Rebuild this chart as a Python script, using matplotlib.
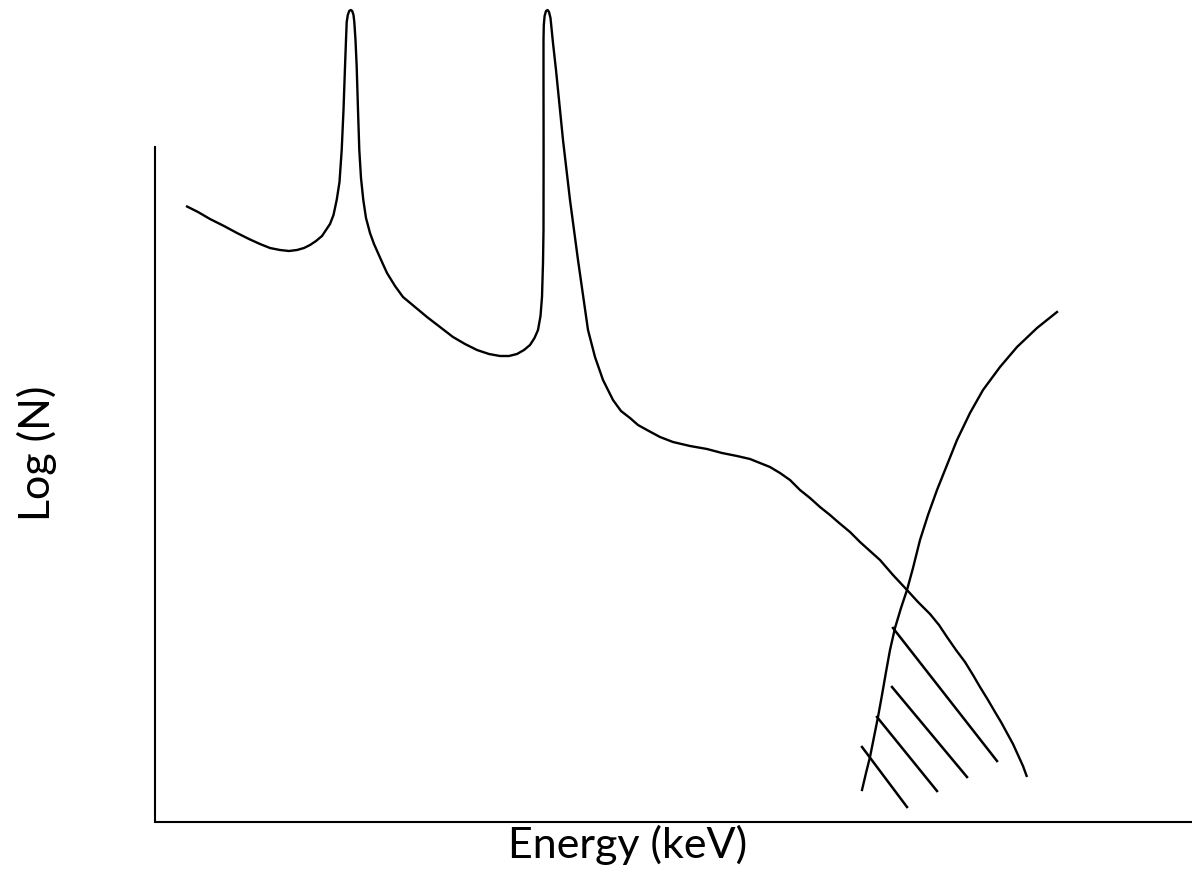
import matplotlib
matplotlib.use("Agg")
import matplotlib.pyplot as plt

# Schematic gamma spectrum (pixel-like units, y downward)
spectrum_x = [186, 198, 210, 224, 237, 249, 260, 270, 280, 289, 297, 304, 310, 316, 322, 326, 330,
              333.5, 336.7, 339.5, 341.7, 343.5, 345, 346, 346.7, 347.8, 349.2, 350.7, 352.2, 353.5,
              354.3, 355.5, 356.7, 358, 359.3, 361, 363.3, 366, 370, 374, 378, 382, 387, 395, 403,
              415, 427, 440, 453, 465, 477, 489, 500, 509, 517, 524, 530, 534.5, 538, 540.5, 542,
              543, 543.5, 543.6, 543.5, 543.5, 543.8, 544.6, 546, 547.6, 549, 550.5, 553, 556, 559.5,
              563, 566.5, 570, 574, 578, 583, 588, 595, 603, 613, 621, 630, 638, 647, 660, 673, 690,
              707, 722, 737, 750, 760, 770, 780, 790, 800, 810, 820, 830, 838, 850, 860, 870, 880,
              893, 907, 918, 930, 939, 947, 956, 965, 973, 980, 988, 995, 1001, 1007, 1013, 1018,
              1023, 1027]
spectrum_y = [206, 212, 219, 226, 233, 239, 244, 248, 250, 251, 250, 248, 245, 241, 236, 230, 224,
              215, 200, 182, 150, 110, 67, 40, 22, 15, 11, 10, 11, 15,
              22, 40, 67, 110, 150, 178, 200, 218, 233, 244, 253, 262, 273, 286, 297,
              307, 317, 327, 337, 344, 350, 354, 356, 356, 354, 350, 345, 338, 330, 316, 297,
              263, 230, 150, 80, 40, 25, 16, 11, 10, 12, 18, 43, 70, 105,
              140, 170, 200, 230, 260, 295, 330, 357, 380, 400, 411, 418, 425, 430, 437, 442, 446,
              449, 453, 456, 459, 463, 467, 473, 480, 490, 498, 507, 515, 522, 532, 542, 551, 560,
              575, 590, 602, 614, 625, 637, 650, 662, 675, 687, 700, 712, 722, 733, 744, 755,
              766, 777]

efficiency_x = [862, 866, 870, 874, 878, 882, 886, 890, 895, 901, 907, 913, 920, 928, 937, 947, 957,
                970, 983, 1000, 1017, 1037, 1057]
efficiency_y = [790, 773, 757, 737, 717, 695, 672, 650, 628, 608, 590, 568, 540, 515, 490, 465, 440,
                413, 390, 367, 347, 328, 312]

hatch_x0 = [862, 877, 892, 893]
hatch_y0 = [747, 717, 687, 628]
hatch_x1 = [907, 937, 967, 997]
hatch_y1 = [807, 791, 777, 761]

axis_x = [155, 155, 1192]
axis_y = [147, 822, 822]

fig = plt.figure(figsize=(11.92, 8.76), dpi=100)
ax = fig.add_axes([0, 0, 1, 1])
ax.set_xlim(0, 1192)
ax.set_ylim(876, 0)
ax.axis("off")

ax.plot(axis_x, axis_y, color="black", lw=1.5, solid_joinstyle="miter")
ax.plot(spectrum_x, spectrum_y, color="black", lw=1.7,
        solid_joinstyle="round", solid_capstyle="butt")
ax.plot(efficiency_x, efficiency_y, color="black", lw=1.7, solid_joinstyle="round")
for a, b, c, d in zip(hatch_x0, hatch_y0, hatch_x1, hatch_y1):
    ax.plot([a, c], [b, d], color="black", lw=1.8)

ax.text(628, 858, "Energy (keV)", ha="center", va="baseline", fontsize=31, family="Lato")
ax.text(50, 453, "Log (N)", ha="center", va="baseline", rotation=90, fontsize=31,
        family="Lato", rotation_mode="anchor")

fig.savefig("out.png", dpi=100)
